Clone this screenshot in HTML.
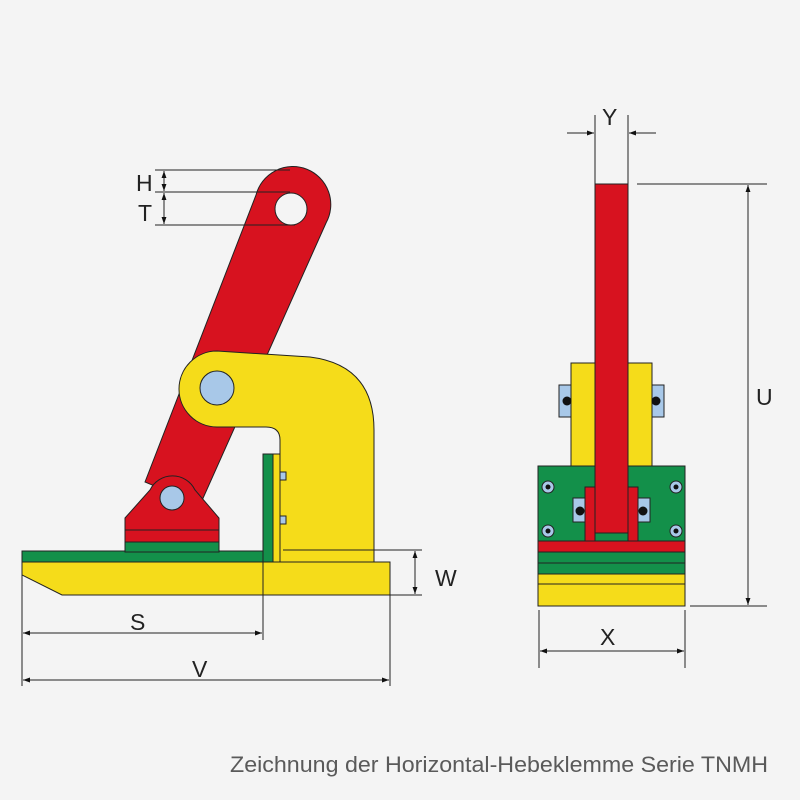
<!DOCTYPE html>
<html><head><meta charset="utf-8"><style>
html,body{margin:0;padding:0;background:#f4f4f4}
svg{display:block}
text{font-family:"Liberation Sans",sans-serif;fill:#222}
</style></head><body>
<svg width="800" height="800" viewBox="0 0 800 800" xmlns="http://www.w3.org/2000/svg">
<defs>
<marker id="a" viewBox="0 0 10 10" refX="10" refY="5" markerWidth="11" markerHeight="7" markerUnits="userSpaceOnUse" orient="auto-start-reverse"><path d="M0,1.5 L10,5 L0,8.5 z" fill="#111"/></marker>
</defs>
<rect width="800" height="800" fill="#f4f4f4"/>
<g stroke="#222" stroke-width="1">
<!-- base plate -->
<path d="M22,562 L390,562 L390,595 L62,595 L22,575 Z" fill="#f5dc1a"/>
<rect x="22" y="551" width="250" height="11" fill="#13904a"/>
<!-- red arm -->
<path d="M145,482 L256,195 A38,38 0 1 1 326,223 L200,505 Z" fill="#d7121f"/>
<circle cx="291" cy="209" r="16" fill="#f4f4f4"/>
<!-- bottom mount -->
<path d="M125,518 L150,490 A25,25 0 0 1 195,490 L219,518 L219,542 L125,542 Z" fill="#d7121f"/>
<line x1="125" y1="530" x2="219" y2="530"/>
<rect x="125" y="542" width="94" height="10" fill="#13904a"/>
<circle cx="172" cy="498" r="12" fill="#a8c8e8"/>
<!-- yellow jaw -->
<path d="M217,351 L310,357 Q374,365 374,430 L374,562 L280,562 L280,440 Q280,427 266,427 L217,427 A38,38 0 0 1 217,351 Z" fill="#f5dc1a"/>
<circle cx="217" cy="388" r="17" fill="#a8c8e8"/>
<rect x="263" y="454" width="10" height="108" fill="#13904a"/>
<rect x="273" y="454" width="7" height="108" fill="#f5dc1a"/>
<rect x="280" y="472" width="6" height="8" fill="#a8c8e8"/>
<rect x="280" y="516" width="6" height="8" fill="#a8c8e8"/>
</g>
<!-- left dims -->
<g stroke="#222" stroke-width="1" fill="none">
<line x1="155" y1="170" x2="290" y2="170"/>
<line x1="155" y1="192" x2="290" y2="192"/>
<line x1="155" y1="225" x2="295" y2="225"/>
<line x1="164" y1="181" x2="164" y2="171" marker-end="url(#a)"/>
<line x1="164" y1="181" x2="164" y2="191" marker-end="url(#a)"/>
<line x1="164" y1="208" x2="164" y2="193" marker-end="url(#a)"/>
<line x1="164" y1="208" x2="164" y2="224" marker-end="url(#a)"/>
<line x1="283" y1="550" x2="422" y2="550"/>
<line x1="390" y1="595" x2="422" y2="595"/>
<line x1="415" y1="551" x2="415" y2="594" marker-start="url(#a)" marker-end="url(#a)"/>
<line x1="22" y1="575" x2="22" y2="686"/>
<line x1="263" y1="562" x2="263" y2="640"/>
<line x1="390" y1="595" x2="390" y2="686"/>
<line x1="23" y1="633" x2="262" y2="633" marker-start="url(#a)" marker-end="url(#a)"/>
<line x1="23" y1="680" x2="389" y2="680" marker-start="url(#a)" marker-end="url(#a)"/>
</g>
<text x="136" y="191" font-size="23">H</text>
<text x="138" y="221" font-size="23">T</text>
<text x="435" y="586" font-size="23">W</text>
<text x="130" y="630" font-size="23">S</text>
<text x="192" y="677" font-size="23">V</text>
<!-- right view -->
<g stroke="#222" stroke-width="1">
<rect x="571" y="363" width="24" height="103" fill="#f5dc1a"/>
<rect x="628" y="363" width="24" height="103" fill="#f5dc1a"/>
<rect x="559" y="385" width="12" height="32" fill="#a8c8e8"/>
<rect x="652" y="385" width="12" height="32" fill="#a8c8e8"/>
<rect x="538" y="466" width="147" height="75" fill="#13904a"/>
<rect x="573" y="498" width="12" height="24" fill="#a8c8e8"/>
<rect x="638" y="498" width="12" height="24" fill="#a8c8e8"/>
<rect x="585" y="487" width="10" height="54" fill="#d7121f"/>
<rect x="628" y="487" width="10" height="54" fill="#d7121f"/>
<rect x="595" y="184" width="33" height="349" fill="#d7121f"/>
<rect x="538" y="541" width="147" height="11" fill="#d7121f"/>
<rect x="538" y="552" width="147" height="11" fill="#13904a"/>
<rect x="538" y="563" width="147" height="11" fill="#13904a"/>
<rect x="538" y="574" width="147" height="10" fill="#f5dc1a"/>
<rect x="538" y="584" width="147" height="22" fill="#f5dc1a"/>
<g fill="#a8c8e8"><circle cx="548" cy="487" r="6"/><circle cx="676" cy="487" r="6"/><circle cx="548" cy="531" r="6"/><circle cx="676" cy="531" r="6"/></g>
</g>
<g fill="#111"><circle cx="548" cy="487" r="2.5"/><circle cx="676" cy="487" r="2.5"/><circle cx="548" cy="531" r="2.5"/><circle cx="676" cy="531" r="2.5"/>
<circle cx="567" cy="401" r="4.5"/><circle cx="656" cy="401" r="4.5"/><circle cx="580" cy="511" r="4.5"/><circle cx="643" cy="511" r="4.5"/></g>
<g stroke="#222" stroke-width="1" fill="none">
<line x1="595" y1="115" x2="595" y2="184"/>
<line x1="628" y1="115" x2="628" y2="184"/>
<line x1="567" y1="133" x2="594" y2="133" marker-end="url(#a)"/>
<line x1="656" y1="133" x2="629" y2="133" marker-end="url(#a)"/>
<line x1="637" y1="184" x2="767" y2="184"/>
<line x1="690" y1="606" x2="767" y2="606"/>
<line x1="748" y1="185" x2="748" y2="605" marker-start="url(#a)" marker-end="url(#a)"/>
<line x1="539" y1="610" x2="539" y2="668"/>
<line x1="685" y1="610" x2="685" y2="668"/>
<line x1="540" y1="651" x2="684" y2="651" marker-start="url(#a)" marker-end="url(#a)"/>
</g>
<text x="602" y="125" font-size="23">Y</text>
<text x="756" y="405" font-size="23">U</text>
<text x="600" y="645" font-size="23">X</text>
<text x="230" y="772" font-size="22" textLength="538" lengthAdjust="spacingAndGlyphs" style="fill:#5a5a5a">Zeichnung der Horizontal-Hebeklemme Serie TNMH</text>
</svg>
</body></html>
